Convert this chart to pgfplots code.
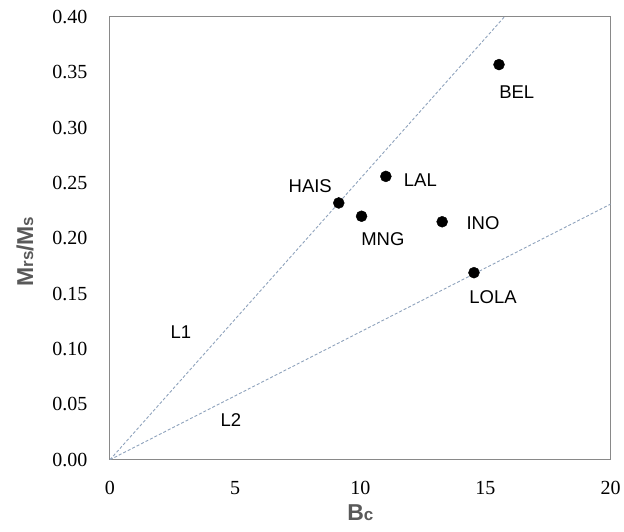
\documentclass[border=0pt]{standalone}
\usepackage{fontspec}
\setmainfont{Liberation Serif}
\newfontfamily\lab{Liberation Sans}
\usepackage{pgfplots}
\pgfplotsset{compat=1.18}
\definecolor{axgray}{HTML}{898989}
\definecolor{titlegray}{HTML}{595959}
\definecolor{dashc}{HTML}{8EA2BC}
\begin{document}
\begin{tikzpicture}
\begin{axis}[
  name=ax,
  scale only axis,
  width=501pt, height=443pt,
  xmin=0, xmax=20, ymin=0, ymax=0.40,
  xtick={0,5,10,15,20},
  ytick={0,0.05,0.10,0.15,0.20,0.25,0.30,0.35,0.40},
  major tick length=0pt,
  axis line style={axgray, line width=1pt},
  tick label style={font=\fontsize{20}{22}\selectfont, black},
  /pgf/number format/assume math mode=true,
  yticklabel style={/pgf/number format/fixed, /pgf/number format/precision=2, /pgf/number format/fixed zerofill},
  xticklabel style={yshift=-18pt},
  yticklabel style={xshift=-19pt},
  xlabel={\lab\bfseries\fontsize{23}{25}\selectfont B{\fontsize{17}{19}\selectfont c}},
  ylabel={\lab\bfseries\fontsize{23}{25}\selectfont M{\fontsize{17}{19}\selectfont rs}/M{\fontsize{17}{19}\selectfont s}},
  xlabel style={text=titlegray, yshift=-3pt},
  ylabel style={text=titlegray, at={(ticklabel cs:0.47,12pt)}},
  clip=true,
]
% trend lines
\addplot[dashc, line width=0.9pt, dash pattern=on 3pt off 2pt] coordinates {(0,0) (15.75,0.40)};
\addplot[dashc, line width=0.9pt, dash pattern=on 3pt off 2pt] coordinates {(0,0) (20,0.231)};
% data points
\addplot[only marks, mark=*, mark size=5.5pt, black] coordinates {
  (9.14,0.232) (10.05,0.220) (11.02,0.256) (13.27,0.215) (14.54,0.169) (15.54,0.357)
};
\begin{scope}[every node/.style={font=\lab\fontsize{18.5}{20}\selectfont, text=black}]
\node at (axis cs:8.0,0.247) {HAIS};
\node at (axis cs:12.4,0.253) {LAL};
\node at (axis cs:10.9,0.199) {MNG};
\node at (axis cs:14.9,0.214) {INO};
\node at (axis cs:15.3,0.147) {LOLA};
\node at (axis cs:16.25,0.332) {BEL};
\node at (axis cs:2.83,0.115) {L1};
\node at (axis cs:4.83,0.036) {L2};
\end{scope}
\end{axis}
\path ([xshift=-110pt,yshift=-72pt]ax.south west) rectangle ([xshift=13pt,yshift=17pt]ax.north east);
\end{tikzpicture}
\end{document}
